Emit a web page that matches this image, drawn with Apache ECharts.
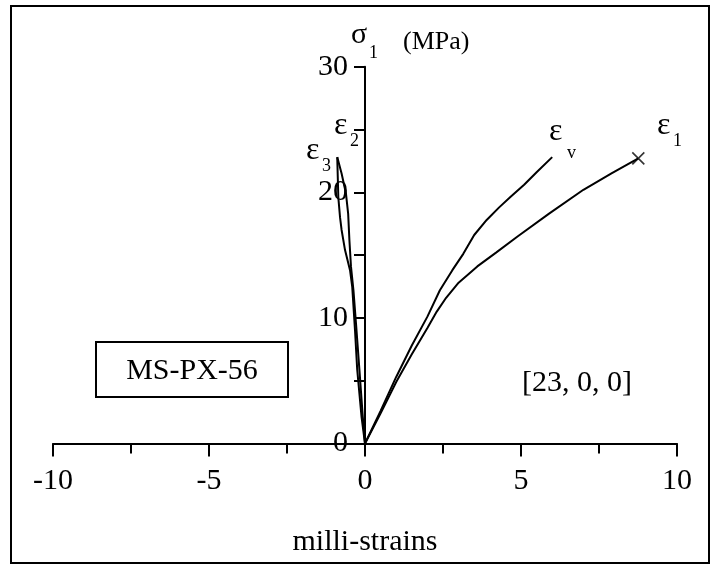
<!DOCTYPE html>
<html>
<head>
<meta charset="utf-8">
<script src="https://cdn.jsdelivr.net/npm/echarts@6/dist/echarts.min.js"></script>
<style>
  html, body { margin: 0; padding: 0; background: #fff; }
  #main { width: 711px; height: 566px; }
</style>
</head>
<body>
<div id="main"></div>
<script>
// strain values (milli-strains) and axial stress (MPa)
const eps1X = [0, 0.5, 1.0, 1.5, 2.0, 2.3, 2.6, 3.0, 3.6, 4.2, 4.9, 5.9, 7.0, 7.9, 8.76]
const eps1Y = [0, 2.4, 4.9, 7.1, 9.2, 10.5, 11.6, 12.8, 14.1, 15.2, 16.5, 18.3, 20.2, 21.5, 22.7]

const epsVX = [0, 0.5, 1.0, 1.5, 2.0, 2.4, 2.8, 3.15, 3.5, 3.9, 4.3, 4.65, 5.1, 5.5, 6.0]
const epsVY = [0, 2.6, 5.3, 7.8, 10.1, 12.2, 13.8, 15.1, 16.6, 17.8, 18.8, 19.6, 20.6, 21.6, 22.8]

const eps2X = [0, -0.07, -0.18, -0.29, -0.37, -0.45, -0.5, -0.54, -0.61, -0.75, -0.89]
const eps2Y = [0, 2.1, 5.9, 9.6, 12.2, 14.1, 16.2, 18.3, 19.9, 21.5, 22.8]

const eps3X = [0, -0.11, -0.25, -0.32, -0.41, -0.48, -0.64, -0.75, -0.8, -0.855, -0.89]
const eps3Y = [0, 2.1, 5.9, 9.0, 12.5, 13.8, 15.4, 17.0, 18.0, 19.6, 22.8]

const xTicks = [-10, -5, 0, 5, 10]
const yTicks = [0, 10, 20, 30]

const zip = (xs, ys) => xs.map((x, i) => [x, ys[i]])

const FONT = '"Liberation Serif", "Times New Roman", serif'

const lineSeries = (name, xs, ys) => ({
  name: name,
  type: 'line',
  data: zip(xs, ys),
  showSymbol: false,
  smooth: false,
  lineStyle: { color: '#000', width: 2 },
  animation: false
})

const chart = echarts.init(document.getElementById('main'))

// epsilon labels with subscripts
const epsLabel = (x, y, sub, sx, sy) => [
  { type: 'text', left: x, top: y, style: { text: 'ε', font: '32px ' + FONT, fill: '#000' } },
  { type: 'text', left: sx, top: sy, style: { text: sub, font: '18px ' + FONT, fill: '#000' } }
]

const option = {
  animation: false,
  grid: {
    left: 53,
    right: 34,
    top: 66.7,
    bottom: 122.5,
    containLabel: false,
    outerBoundsMode: 'none'
  },
  xAxis: {
    type: 'value',
    min: -10,
    max: 10,
    interval: 5,
    name: 'milli-strains',
    nameLocation: 'middle',
    nameGap: 84,
    nameTextStyle: { fontFamily: FONT, fontSize: 30, color: '#000' },
    axisLine: { onZero: true, lineStyle: { color: '#000', width: 2 } },
    axisTick: { show: true, length: 13, lineStyle: { color: '#000', width: 2 } },
    minorTick: { show: true, splitNumber: 2, length: 10, lineStyle: { color: '#000', width: 2 } },
    splitLine: { show: false },
    axisLabel: {
      margin: 23,
      fontFamily: FONT,
      fontSize: 30,
      color: '#000',
      formatter: (v) => (xTicks.includes(v) ? String(v) : '')
    }
  },
  yAxis: {
    type: 'value',
    min: 0,
    max: 30,
    interval: 5,
    // stress axis sits at zero strain, shift the whole axis there
    offset: -312,
    axisLine: { show: true, onZero: false, lineStyle: { color: '#000', width: 2 } },
    axisTick: { show: true, length: 11, lineStyle: { color: '#000', width: 2 } },
    splitLine: { show: false },
    axisLabel: {
      margin: 17,
      fontFamily: FONT,
      fontSize: 30,
      color: '#000',
      padding: [5, 0, 0, 0],
      formatter: (v) => (yTicks.includes(v) ? String(v) : '')
    }
  },
  series: [
    lineSeries('eps1', eps1X, eps1Y),
    lineSeries('epsV', epsVX, epsVY),
    lineSeries('eps2', eps2X, eps2Y),
    lineSeries('eps3', eps3X, eps3Y),
    {
      name: 'peak',
      type: 'scatter',
      data: [[eps1X[eps1X.length - 1], eps1Y[eps1Y.length - 1]]],
      symbol: 'path://M0,0L10,10M10,0L0,10',
      symbolSize: 12,
      itemStyle: { color: 'none', borderColor: '#000', borderWidth: 1.6 },
      animation: false
    }
  ],
  graphic: [
    // outer frame
    {
      type: 'rect',
      shape: { x: 11, y: 6, width: 698, height: 557 },
      style: { fill: 'none', stroke: '#000', lineWidth: 2 },
      z: 0
    },
    // sample box
    {
      type: 'rect',
      shape: { x: 96, y: 342, width: 192, height: 55 },
      style: { fill: '#fff', stroke: '#000', lineWidth: 2 }
    },
    {
      type: 'text',
      x: 192,
      y: 371,
      style: { text: 'MS-PX-56', font: '30px ' + FONT, fill: '#000', align: 'center', verticalAlign: 'middle' }
    },
    {
      type: 'text',
      x: 522,
      y: 383,
      style: { text: '[23, 0, 0]', font: '30px ' + FONT, fill: '#000', align: 'left', verticalAlign: 'middle' }
    },
    // stress axis title
    { type: 'text', left: 351, top: 20, style: { text: 'σ', font: '30px ' + FONT, fill: '#000' } },
    { type: 'text', left: 369, top: 44, style: { text: '1', font: '18px ' + FONT, fill: '#000' } },
    { type: 'text', left: 403, top: 29, style: { text: '(MPa)', font: '26px ' + FONT, fill: '#000' } },
    ...epsLabel(334, 110, '2', 350, 132),
    ...epsLabel(306, 135, '3', 322, 157),
    ...epsLabel(549, 116, 'v', 567, 144),
    ...epsLabel(657, 110, '1', 673, 132)
  ]
}

chart.setOption(option)
</script>
</body>
</html>
